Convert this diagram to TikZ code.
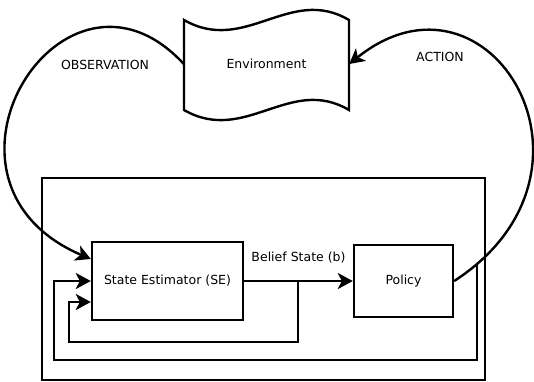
\documentclass[tikz,border=0pt]{standalone}
\usepackage{fontspec}
\setmainfont{DejaVu Sans}
\usetikzlibrary{arrows.meta,calc}

\begin{document}
\begin{tikzpicture}[x=1pt,y=-1pt,font=\fontsize{12.5}{15}\selectfont]
\tikzset{block/.style = {shape=rectangle,draw,line width=2.4pt,inner sep=0pt}}
\tikzset{edge/.style = {->,> = {Stealth[length=15pt,width=16pt,inset=4pt]},line width=2.4pt}}
\useasboundingbox (0,0) rectangle (534,381);

% environment (wavy sheet)
\draw[line width=2.4pt] (184,20) .. controls (245,55) and (290,-15) .. (349,20)
  -- (349,110) .. controls (290,75) and (245,145) .. (184,110) -- cycle;
\node[minimum width=165pt,minimum height=80pt] (env) at (266.5,64) {Environment};

% agent
\node[block,minimum width=443pt,minimum height=202pt] (agent) at (263.5,279) {};
\node[block,minimum width=151pt,minimum height=78pt] (se) at (167.5,281) {State Estimator (SE)};
\node[block,minimum width=99pt,minimum height=72pt] (pol) at (403.5,281) {Policy};

\node[] (obs) at (105,65) {OBSERVATION};
\node[] (act) at (440,57) {ACTION};

\draw[edge] (se) -- node[above=13pt] (bel) {Belief State (b)} (pol);
\coordinate (split) at ($(se.east)+(54,0)$);
\draw[edge] (split) -- ++(0,61) -| ($(se.west)+(-22,21)$) -- ($(se.west)+(0,21)$);

\draw[edge] (env.west) .. controls +(-120,-130) and +(-182,-78) .. ($(se.west)+(0,-22)$);
\draw[edge] (pol.east) .. controls +(168,-109) and +(140,-112) .. (env.east)
  coordinate[pos=0.05] (fb);
\draw[edge] (fb) |- ($(se.west)+(-37,79)$) |- (se.west);

\end{tikzpicture}
\end{document}
